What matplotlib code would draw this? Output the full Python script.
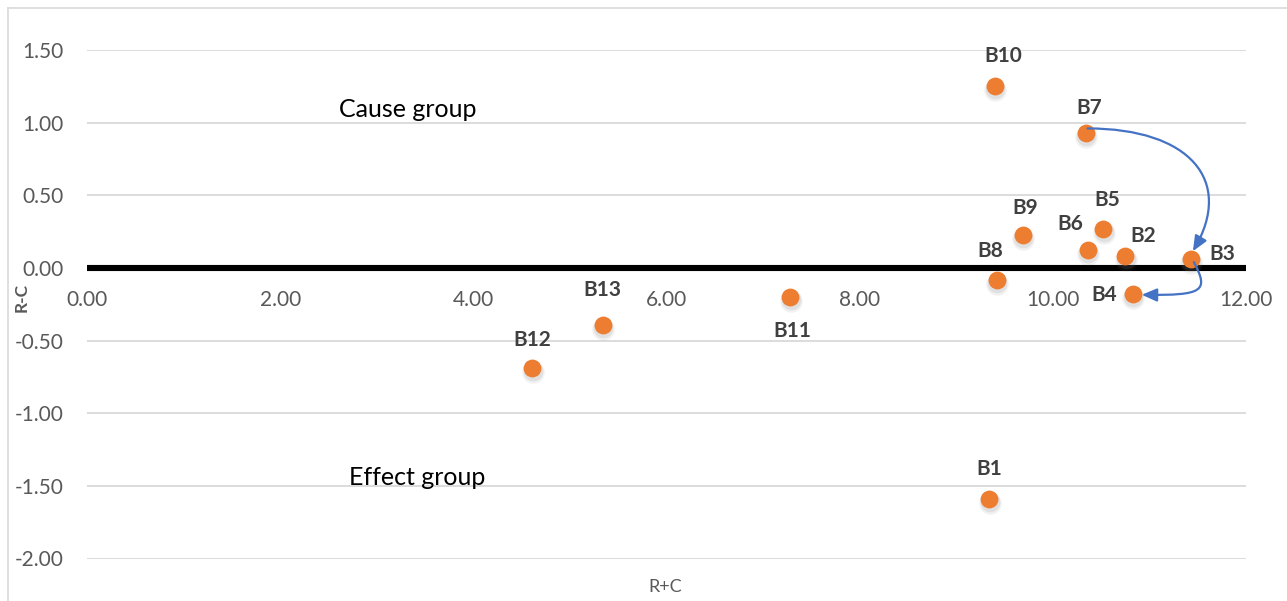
import matplotlib
matplotlib.use("Agg")
import matplotlib.pyplot as plt
from matplotlib.patches import FancyArrowPatch
from matplotlib.path import Path
from matplotlib.lines import Line2D
import matplotlib.transforms as mtransforms

plt.rcParams['font.family'] = ['Lato', 'DejaVu Sans']

# Prominence (R+C) and relation (R-C) of each factor
labels = ["B1", "B2", "B3", "B4", "B5", "B6", "B7", "B8", "B9", "B10", "B11", "B12", "B13"]
r_plus_c = [9.34, 10.75, 11.43, 10.83, 10.52, 10.36, 10.34, 9.42, 9.69, 9.40, 7.28, 4.61, 5.34]
r_minus_c = [-1.59, 0.08, 0.06, -0.18, 0.27, 0.12, 0.93, -0.08, 0.23, 1.25, -0.20, -0.69, -0.39]

x_ticks = [0, 2, 4, 6, 8, 10, 12]
y_ticks = [-2.0, -1.5, -1.0, -0.5, 0.0, 0.5, 1.0, 1.5]

# label offsets in pixels (dx, dy) relative to each point
label_offsets = {
    "B1": (0, 30), "B2": (18, 20), "B3": (31, 5), "B4": (-29, -1),
    "B5": (4, 29), "B6": (-17, 26), "B7": (4, 25), "B8": (-7, 29),
    "B9": (2, 27), "B10": (8, 30), "B11": (2, -34), "B12": (0, 28),
    "B13": (0, 35),
}

W, H = 1287, 601
fig = plt.figure(figsize=(W / 100, H / 100), dpi=100)
fig.patch.set_facecolor("white")

left, right, top, bottom = 87, 1246, 50, 558.5
ax = fig.add_axes([left / W, 1 - bottom / H, (right - left) / W, (bottom - top) / H])
ax.set_xlim(0, 12)
ax.set_ylim(-2, 1.5)

tick_color = "#595959"
grid_color = "#D9D9D9"

ax.set_yticks(y_ticks)
ax.set_yticklabels([f"{v:.2f}" for v in y_ticks])
ax.set_xticks(x_ticks)
ax.set_xticklabels([f"{v:.2f}" for v in x_ticks])
ax.tick_params(axis="y", length=0, pad=17, labelsize=15, labelcolor=tick_color)
ax.tick_params(axis="x", length=0, pad=16, labelsize=15, labelcolor=tick_color)

for yv in y_ticks:
    if yv != 0:
        ax.axhline(yv, color=grid_color, lw=1.3, zorder=0)

for s in ["top", "right", "left"]:
    ax.spines[s].set_visible(False)
ax.spines["bottom"].set_position(("data", 0))
ax.spines["bottom"].set_color("black")
ax.spines["bottom"].set_linewidth(4.4)
ax.spines["bottom"].set_capstyle("butt")
ax.spines["bottom"].set_zorder(2)

# soft shadow under the markers
for dy, a, s in [(-4, 0.10, 260), (-3, 0.15, 200)]:
    shadow_tr = mtransforms.offset_copy(ax.transData, fig=fig, x=0.5, y=dy, units="dots")
    ax.scatter(r_plus_c, r_minus_c, s=s, color="#7f7f7f", alpha=a, lw=0,
               transform=shadow_tr, zorder=3, clip_on=False)

ax.scatter(r_plus_c, r_minus_c, s=165, color="#ED7D31", lw=0, zorder=4, clip_on=False)

for name, xv, yv in zip(labels, r_plus_c, r_minus_c):
    dx, dy = label_offsets[name]
    ax.annotate(name, (xv, yv), xytext=(dx, dy), textcoords="offset pixels",
                ha="center", va="center", fontsize=15, fontweight="bold",
                color="#404040", zorder=5, annotation_clip=False)

pt = dict(zip(labels, zip(r_plus_c, r_minus_c)))
b7, b3, b4 = pt["B7"], pt["B3"], pt["B4"]


def shift(p, dx, dy):
    return (p[0] + dx, p[1] + dy)


arrow_color = "#4472C4"
path1 = Path([shift(b7, 0.02, 0.03), shift(b7, 1.08, 0.03),
              shift(b3, 0.45, 0.54), shift(b3, 0.02, 0.055)],
             [Path.MOVETO, Path.CURVE4, Path.CURVE4, Path.CURVE4])
path2 = Path([shift(b3, 0.03, -0.02), shift(b3, 0.19, -0.22),
              shift(b4, 0.73, -0.01), shift(b4, 0.09, -0.005)],
             [Path.MOVETO, Path.CURVE4, Path.CURVE4, Path.CURVE4])
for p in (path1, path2):
    arr = FancyArrowPatch(path=p, arrowstyle="-|>,head_length=0.65,head_width=0.28",
                          mutation_scale=14, color=arrow_color, lw=1.6,
                          shrinkA=0, shrinkB=0, zorder=6, clip_on=False)
    ax.add_patch(arr)

# group captions
ax.text(3.32, 1.09, "Cause group", fontsize=18, color="black", ha="center", va="center")
ax.text(3.42, -1.44, "Effect group", fontsize=18, color="black", ha="center", va="center")

# axis titles
fig.text(22 / W, 1 - 297 / H, "R-C", rotation=90, fontsize=12.5, fontweight="bold",
         color=tick_color, ha="center", va="center")
fig.text(665 / W, 1 - 587 / H, "R+C", fontsize=13, color=tick_color,
         ha="center", va="center")

# chart frame
fig.add_artist(Line2D([7.5 / W, 7.5 / W], [0, 1 - 8 / H], color=grid_color, lw=1.2,
                      transform=fig.transFigure))
fig.add_artist(Line2D([7.5 / W, 1], [1 - 8 / H, 1 - 8 / H], color=grid_color, lw=1.2,
                      transform=fig.transFigure))

fig.savefig("out.png", dpi=100, facecolor="white")
